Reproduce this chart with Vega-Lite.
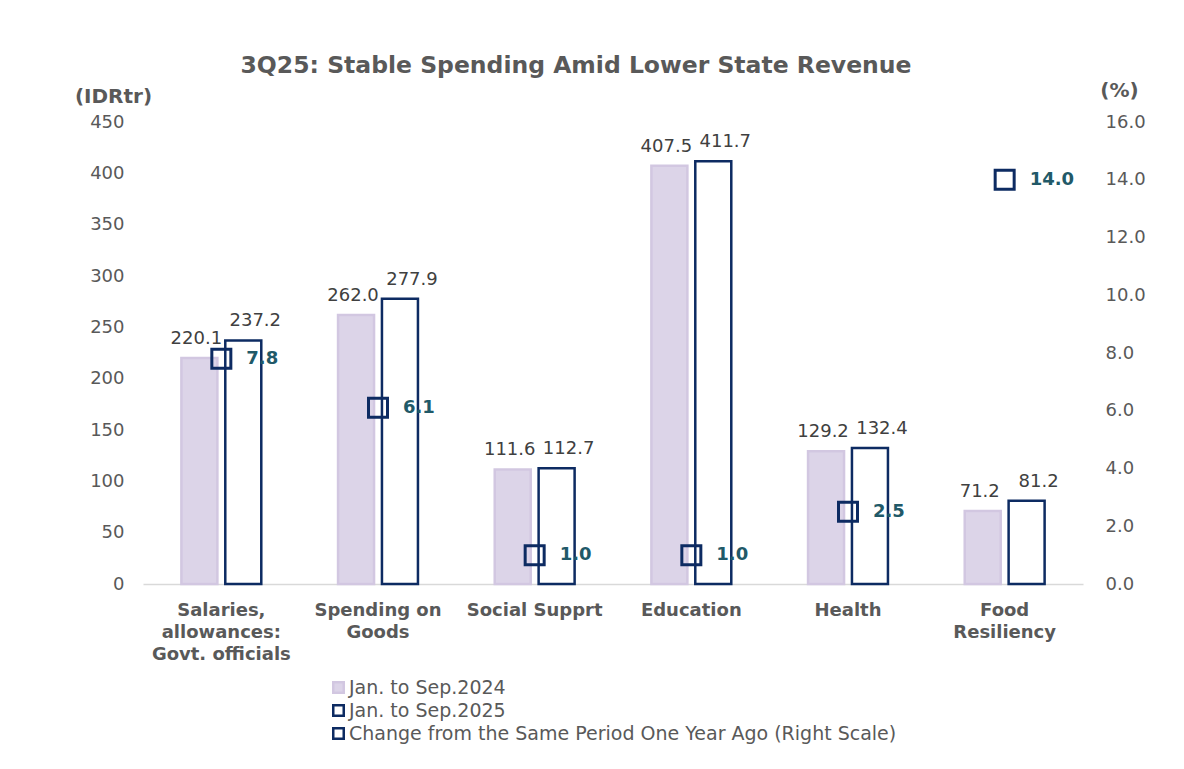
{
  "$schema": "https://vega.github.io/schema/vega-lite/v6.json",
  "width": 940,
  "height": 462,
  "autosize": {"type": "none"},
  "padding": {"left": 143, "top": 122, "right": 101, "bottom": 185},
  "background": "white",
  "config": {"font": "DejaVu Sans", "view": {"stroke": null}},
  "title": {
    "text": "3Q25: Stable Spending Amid Lower State Revenue",
    "fontSize": 23.5,
    "fontWeight": "bold",
    "color": "#595959",
    "anchor": "middle",
    "frame": "group",
    "dx": -37,
    "offset": 3
  },
  "data": {
    "values": [
      {"cat": "Salaries, allowances: Govt. officials", "series": "Jan. to Sep.2024", "value": 220.1},
      {"cat": "Spending on Goods", "series": "Jan. to Sep.2024", "value": 262.0},
      {"cat": "Social Supprt", "series": "Jan. to Sep.2024", "value": 111.6},
      {"cat": "Education", "series": "Jan. to Sep.2024", "value": 407.5},
      {"cat": "Health", "series": "Jan. to Sep.2024", "value": 129.2},
      {"cat": "Food Resiliency", "series": "Jan. to Sep.2024", "value": 71.2},
      {"cat": "Salaries, allowances: Govt. officials", "series": "Jan. to Sep.2025", "value": 237.2},
      {"cat": "Spending on Goods", "series": "Jan. to Sep.2025", "value": 277.9},
      {"cat": "Social Supprt", "series": "Jan. to Sep.2025", "value": 112.7},
      {"cat": "Education", "series": "Jan. to Sep.2025", "value": 411.7},
      {"cat": "Health", "series": "Jan. to Sep.2025", "value": 132.4},
      {"cat": "Food Resiliency", "series": "Jan. to Sep.2025", "value": 81.2},
      {"cat": "Salaries, allowances: Govt. officials", "series": "Change from the Same Period One Year Ago (Right Scale)", "value": 7.8},
      {"cat": "Spending on Goods", "series": "Change from the Same Period One Year Ago (Right Scale)", "value": 6.1},
      {"cat": "Social Supprt", "series": "Change from the Same Period One Year Ago (Right Scale)", "value": 1.0},
      {"cat": "Education", "series": "Change from the Same Period One Year Ago (Right Scale)", "value": 1.0},
      {"cat": "Health", "series": "Change from the Same Period One Year Ago (Right Scale)", "value": 2.5},
      {"cat": "Food Resiliency", "series": "Change from the Same Period One Year Ago (Right Scale)", "value": 14.0}
    ]
  },
  "encoding": {
    "x": {
      "field": "cat",
      "type": "nominal",
      "sort": null,
      "scale": {"paddingInner": 0.49, "paddingOuter": 0.245},
      "axis": {
        "title": null,
        "labelAngle": 0,
        "ticks": false,
        "domainColor": "#d9d9d9",
        "domainWidth": 1.5,
        "labelFontSize": 18,
        "labelFontWeight": "bold",
        "labelColor": "#595959",
        "labelPadding": 17,
        "labelLineHeight": 22,
        "labelExpr": "datum.value == 'Salaries, allowances: Govt. officials' ? ['Salaries,', 'allowances:', 'Govt. officials'] : datum.value == 'Spending on Goods' ? ['Spending on', 'Goods'] : datum.value == 'Food Resiliency' ? ['Food', 'Resiliency'] : datum.value"
      }
    }
  },
  "layer": [
    {
      "transform": [{"filter": "datum.series != 'Change from the Same Period One Year Ago (Right Scale)'"}],
      "mark": {"type": "bar", "strokeWidth": 2.5},
      "encoding": {
        "xOffset": {
          "field": "series",
          "type": "nominal",
          "scale": {"domain": ["Jan. to Sep.2024", "Jan. to Sep.2025"], "paddingInner": 0.18, "paddingOuter": 0}
        },
        "y": {
          "field": "value",
          "type": "quantitative",
          "scale": {"domain": [0, 450], "nice": false},
          "axis": {
            "orient": "left",
            "values": [0, 50, 100, 150, 200, 250, 300, 350, 400, 450],
            "grid": false,
            "domain": false,
            "ticks": false,
            "labelFontSize": 18,
            "labelColor": "#595959",
            "labelPadding": 19,
            "title": "(IDRtr)",
            "titleAngle": 0,
            "titleX": -30,
            "titleY": -26,
            "titleAlign": "center",
            "titleBaseline": "middle",
            "titleFontSize": 20,
            "titleFontWeight": "bold",
            "titleColor": "#595959"
          }
        },
        "fill": {
          "field": "series",
          "type": "nominal",
          "scale": {
            "domain": ["Jan. to Sep.2024", "Jan. to Sep.2025", "Change from the Same Period One Year Ago (Right Scale)"],
            "range": ["#dcd4e8", "#ffffff", "transparent"]
          },
          "legend": {
            "title": null,
            "orient": "none",
            "legendX": 186,
            "legendY": 556,
            "symbolType": "square",
            "symbolSize": 110,
            "symbolStrokeWidth": 2.5,
            "labelFontSize": 19,
            "labelColor": "#595959",
            "labelOffset": 1,
            "labelLimit": 800,
            "rowPadding": 2
          }
        },
        "stroke": {
          "field": "series",
          "type": "nominal",
          "scale": {
            "domain": ["Jan. to Sep.2024", "Jan. to Sep.2025", "Change from the Same Period One Year Ago (Right Scale)"],
            "range": ["#d2c7e1", "#0d2b62", "#0d2b62"]
          },
          "legend": {
            "title": null,
            "orient": "none",
            "legendX": 186,
            "legendY": 556,
            "symbolType": "square",
            "symbolSize": 110,
            "symbolStrokeWidth": 2.5,
            "labelFontSize": 19,
            "labelColor": "#595959",
            "labelOffset": 1,
            "labelLimit": 800,
            "rowPadding": 2
          }
        }
      }
    },
    {
      "transform": [{"filter": "datum.series == 'Jan. to Sep.2024'"}],
      "mark": {"type": "text", "fontSize": 18, "color": "#404040", "baseline": "alphabetic", "dy": -14, "dx": -3},
      "encoding": {
        "xOffset": {"field": "series", "type": "nominal"},
        "y": {"field": "value", "type": "quantitative", "scale": {"domain": [0, 450], "nice": false}, "axis": null},
        "text": {"field": "value", "type": "quantitative", "format": ".1f"}
      }
    },
    {
      "transform": [{"filter": "datum.series == 'Jan. to Sep.2025'"}],
      "mark": {"type": "text", "fontSize": 18, "color": "#404040", "baseline": "alphabetic", "dy": -14, "dx": 12},
      "encoding": {
        "xOffset": {"field": "series", "type": "nominal"},
        "y": {"field": "value", "type": "quantitative", "scale": {"domain": [0, 450], "nice": false}, "axis": null},
        "text": {"field": "value", "type": "quantitative", "format": ".1f"}
      }
    },
    {
      "transform": [{"filter": "datum.series == 'Change from the Same Period One Year Ago (Right Scale)'"}],
      "mark": {"type": "point", "shape": "square", "size": 361, "strokeWidth": 3, "opacity": 1},
      "encoding": {
        "y": {
          "field": "value",
          "type": "quantitative",
          "scale": {"domain": [0, 16], "nice": false},
          "axis": {
            "orient": "right",
            "values": [0, 2, 4, 6, 8, 10, 12, 14, 16],
            "format": ".1f",
            "grid": false,
            "domain": false,
            "ticks": false,
            "labelFontSize": 18,
            "labelColor": "#595959",
            "labelPadding": 22,
            "title": "(%)",
            "titleAngle": 0,
            "titleX": 36,
            "titleY": -32,
            "titleAlign": "center",
            "titleBaseline": "middle",
            "titleFontSize": 20,
            "titleFontWeight": "bold",
            "titleColor": "#595959"
          }
        },
        "fill": {"field": "series", "type": "nominal"},
        "stroke": {"field": "series", "type": "nominal"}
      }
    },
    {
      "transform": [{"filter": "datum.series == 'Change from the Same Period One Year Ago (Right Scale)'"}],
      "mark": {"type": "text", "fontSize": 18, "fontWeight": "bold", "color": "#215968", "align": "left", "baseline": "middle", "dx": 25},
      "encoding": {
        "y": {"field": "value", "type": "quantitative", "scale": {"domain": [0, 16], "nice": false}, "axis": null},
        "text": {"field": "value", "type": "quantitative", "format": ".1f"}
      }
    }
  ],
  "resolve": {"scale": {"y": "independent"}}
}
